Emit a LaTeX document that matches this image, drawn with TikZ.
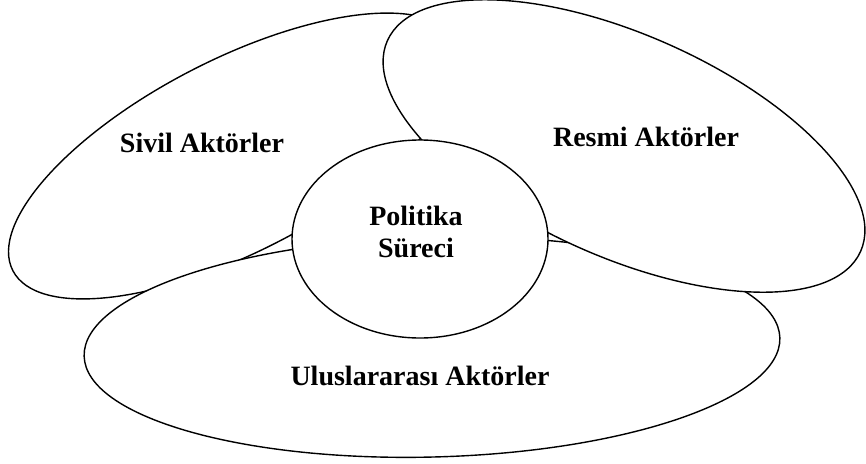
\documentclass[tikz,border=0pt]{standalone}
\usepackage{fontspec}
\setmainfont{Liberation Serif}
\usetikzlibrary{shapes.geometric}
\begin{document}
\begin{tikzpicture}[x=1pt,y=-1pt,
  blob/.style={ellipse, draw=black, fill=white, line width=1.4pt, inner sep=0pt, outer sep=0pt},
  lbl/.style={font=\bfseries\fontsize{28}{32}\selectfont, align=center, inner sep=0pt}]
\useasboundingbox (0,0) rectangle (866,463);
\node[blob, minimum width=500pt, minimum height=192pt, rotate=27.3] (sivil) at (235,156) {};
\node[blob, minimum width=696pt, minimum height=220pt, rotate=1.5] (ulus) at (432,347) {};
\node[blob, minimum width=518pt, minimum height=222pt, rotate=-24] (resmi) at (624,146) {};
\node[blob, minimum width=256pt, minimum height=198pt] (pol) at (420,239) {};
\node[lbl] (sivilt) at (202,143) {Sivil Aktörler};
\node[lbl] (resmit) at (646,137) {Resmi Aktörler};
\node[lbl] (polt) at (416,232) {Politika\\Süreci};
\node[lbl] (ulust) at (420,376) {Uluslararası Aktörler};
\end{tikzpicture}
\end{document}
